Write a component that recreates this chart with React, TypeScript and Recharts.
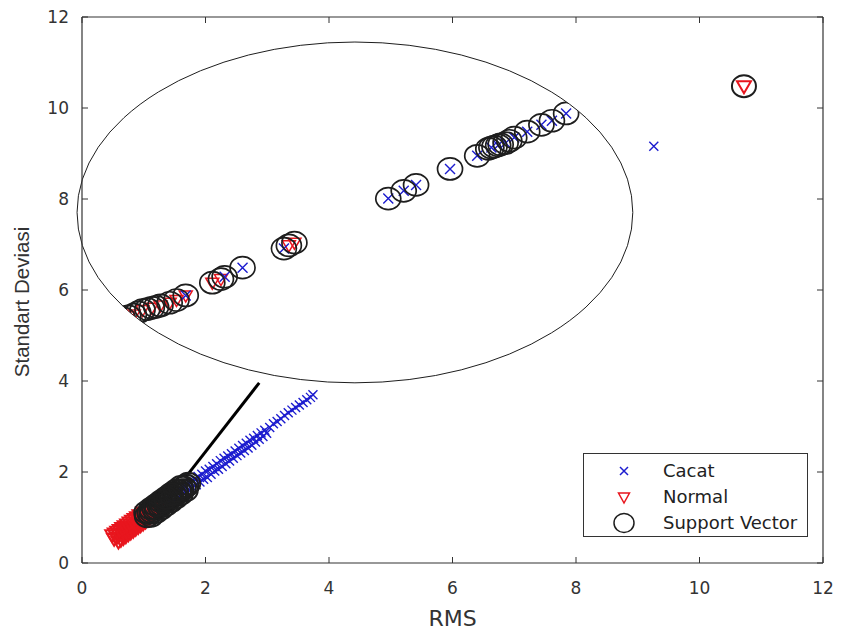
import React from "react";
import {
  ScatterChart,
  Scatter,
  XAxis,
  YAxis,
  ReferenceArea,
  ReferenceLine,
  Legend,
} from "recharts";

// Cacat (defect) samples: RMS vs standard deviation
const cacatRms = [
  1.4, 1.43, 1.46, 1.49, 1.52, 1.55, 1.58, 1.61, 1.64, 1.67,
  1.7, 1.73, 1.76, 1.79, 1.82, 1.85, 1.88, 1.91, 1.94, 1.97,
  2.0, 2.03, 2.06, 2.09, 2.12, 2.15, 2.18, 2.21, 2.24, 2.27,
  2.3, 2.33, 2.36, 2.39, 2.42, 2.45, 2.48, 2.51, 2.54, 2.57,
  2.6, 2.63, 2.66, 2.69, 2.72, 2.75, 2.78, 2.81, 2.84, 2.87,
  2.9, 2.93, 2.96, 2.99, 3.04, 3.1, 3.16, 3.22, 3.28, 3.34,
  3.4, 3.46, 3.52, 3.58, 3.64, 3.7, 3.74, 9.26,
];
const cacatStd = [
  1.47, 1.32, 1.5, 1.38, 1.58, 1.44, 1.62, 1.5, 1.7, 1.56,
  1.74, 1.6, 1.78, 1.66, 1.84, 1.72, 1.9, 1.78, 1.95, 1.84,
  2.02, 1.88, 2.06, 1.95, 2.12, 2.02, 2.18, 2.06, 2.25, 2.12,
  2.3, 2.18, 2.35, 2.24, 2.4, 2.3, 2.46, 2.36, 2.52, 2.42,
  2.58, 2.47, 2.63, 2.53, 2.7, 2.59, 2.74, 2.66, 2.8, 2.72,
  2.86, 2.78, 2.92, 2.85, 2.98, 3.06, 3.11, 3.17, 3.24, 3.3,
  3.36, 3.42, 3.47, 3.53, 3.59, 3.64, 3.7, 9.16,
];

// Normal samples
const normalRms = [
  0.52, 0.56, 0.6, 0.64, 0.68, 0.72, 0.76, 0.8, 0.84, 0.88,
  0.92, 0.96, 1.0, 1.05, 1.1, 1.16, 1.22,
  0.59, 0.63, 0.67, 0.71, 0.75, 0.79, 0.83, 0.87, 0.91, 0.95,
  0.99, 1.03, 1.09, 1.15, 1.23,
  0.49, 0.53, 0.57, 0.61, 0.65, 0.69, 0.73, 0.77, 0.81, 0.85,
  0.89, 0.93, 0.99, 1.05, 1.13,
  10.72,
];
const normalStd = [
  0.53, 0.56, 0.61, 0.64, 0.69, 0.72, 0.77, 0.8, 0.85, 0.88,
  0.93, 0.96, 1.01, 1.05, 1.11, 1.16, 1.23,
  0.47, 0.51, 0.55, 0.59, 0.63, 0.67, 0.71, 0.75, 0.79, 0.83,
  0.87, 0.91, 0.97, 1.03, 1.11,
  0.61, 0.65, 0.69, 0.73, 0.77, 0.81, 0.85, 0.89, 0.93, 0.97,
  1.01, 1.05, 1.11, 1.17, 1.25,
  10.48,
];

// support vectors
const svRms = [
  1.05, 1.09, 1.13, 1.17, 1.21, 1.25, 1.29, 1.33, 1.37, 1.41,
  1.45, 1.49, 1.53, 1.57, 1.61, 1.65, 1.69, 1.72,
  1.12, 1.2, 1.28, 1.36, 1.44, 1.52, 1.6, 1.68,
  1.04, 1.12, 1.2, 1.28, 1.36, 1.44, 1.52, 1.6,
  10.72,
];
const svStd = [
  1.03, 1.1, 1.12, 1.19, 1.2, 1.27, 1.28, 1.35, 1.36, 1.43,
  1.44, 1.51, 1.52, 1.58, 1.6, 1.66, 1.7, 1.74,
  1.04, 1.12, 1.2, 1.28, 1.36, 1.44, 1.52, 1.6,
  1.11, 1.19, 1.27, 1.35, 1.43, 1.51, 1.59, 1.67,
  10.48,
];

// magnified points shown inside the zoom ellipse
const zoomNormalRms = [0.66, 0.75, 0.84, 0.98, 1.13, 1.27, 1.42, 1.53, 1.68, 2.11, 2.25, 3.35, 3.44];
const zoomNormalStd = [5.38, 5.42, 5.46, 5.56, 5.61, 5.66, 5.72, 5.78, 5.88, 6.16, 6.24, 6.98, 7.04];
const zoomCacatRms = [1.68, 2.31, 2.6, 3.27, 4.96, 5.21, 5.41, 5.96, 6.4, 6.63, 6.74, 6.86, 7.0, 7.21, 7.44, 7.61, 7.84];
const zoomCacatStd = [5.88, 6.29, 6.49, 6.91, 8.01, 8.18, 8.31, 8.66, 8.95, 9.13, 9.18, 9.23, 9.35, 9.48, 9.63, 9.72, 9.88];
const zoomSvRms = [
  0.66, 0.75, 0.84, 0.91, 0.98, 1.06, 1.13, 1.2, 1.27, 1.42,
  1.53, 1.68, 2.11, 2.25, 2.31, 2.6, 3.27, 3.35, 3.44, 4.96,
  5.21, 5.41, 5.96, 6.4, 6.58, 6.63, 6.68, 6.74, 6.78, 6.86,
  6.92, 7.0, 7.21, 7.44, 7.61, 7.84,
];
const zoomSvStd = [
  5.38, 5.42, 5.46, 5.51, 5.56, 5.58, 5.61, 5.63, 5.66, 5.72,
  5.78, 5.88, 6.16, 6.24, 6.29, 6.49, 6.91, 6.98, 7.04, 8.01,
  8.18, 8.31, 8.66, 8.95, 9.1, 9.13, 9.15, 9.18, 9.2, 9.23,
  9.28, 9.35, 9.48, 9.63, 9.72, 9.88,
];

// zoom ellipse bounds and connector (data units)
const zoomBox = { x1: -0.08, x2: 8.92, y1: 3.96, y2: 11.45 };
const connector = [
  { x: 1.67, y: 1.87 },
  { x: 2.87, y: 3.96 },
];

const axisTicks = [0, 2, 4, 6, 8, 10, 12];

const BLUE = "#1c1ccf";
const RED = "#e8161e";
const INK = "#1e1e1e";
const AXIS = "#333333";
const FONT = "'DejaVu Sans', sans-serif";

const toPoints = (xs: number[], ys: number[]) => xs.map((x, i) => ({ rms: x, std: ys[i] }));

const cacatData = toPoints(cacatRms, cacatStd);
const normalData = toPoints(normalRms, normalStd);
const svData = toPoints(svRms, svStd);
const zoomCacatData = toPoints(zoomCacatRms, zoomCacatStd);
const zoomNormalData = toPoints(zoomNormalRms, zoomNormalStd);
const zoomSvData = toPoints(zoomSvRms, zoomSvStd);

const CLIP = "url(#zoomClip)";

function crossShape(s: number, clip?: boolean) {
  return (p: any) => {
    const { cx, cy } = p;
    return (
      <path
        d={`M${cx - s},${cy - s}L${cx + s},${cy + s}M${cx - s},${cy + s}L${cx + s},${cy - s}`}
        stroke={BLUE}
        strokeWidth={1.4}
        fill='none'
        clipPath={clip ? CLIP : undefined}
      />
    );
  };
}

function triangleShape(s: number, w: number, clip?: boolean) {
  return (p: any) => {
    const { cx, cy } = p;
    return (
      <path
        d={`M${cx - s},${cy - s * 0.7}L${cx + s},${cy - s * 0.7}L${cx},${cy + s}Z`}
        stroke={RED}
        strokeWidth={w}
        fill='none'
        clipPath={clip ? CLIP : undefined}
      />
    );
  };
}

function circleShape(rx: number, ry: number, w: number, clip?: boolean) {
  return (p: any) => {
    const { cx, cy } = p;
    return (
      <ellipse
        cx={cx}
        cy={cy}
        rx={rx}
        ry={ry}
        stroke={INK}
        strokeWidth={w}
        fill='none'
        clipPath={clip ? CLIP : undefined}
      />
    );
  };
}

const ZoomEllipse = (p: any) => {
  const { x, y, width, height } = p;
  const cx = x + width / 2;
  const cy = y + height / 2;
  return (
    <g>
      <defs>
        <clipPath id='zoomClip'>
          <ellipse cx={cx} cy={cy} rx={width / 2} ry={height / 2} />
        </clipPath>
      </defs>
      <ellipse cx={cx} cy={cy} rx={width / 2} ry={height / 2} fill='none' stroke={INK} strokeWidth={1} />
    </g>
  );
};

// box axes (top / right) carry tick marks only, no labels
const NoTick = () => <g />;

const legendRows = [
  { name: "Cacat", kind: "x" },
  { name: "Normal", kind: "v" },
  { name: "Support Vector", kind: "o" },
];

const LegendBox = () => (
  <div
    style={{
      width: 225,
      height: 84,
      boxSizing: "border-box",
      border: `1.5px solid ${AXIS}`,
      background: "#fff",
      position: "relative",
      fontFamily: FONT,
      fontSize: 18,
      color: "#222",
    }}
  >
    {legendRows.map((row, i) => (
      <div
        key={row.name}
        style={{ position: "absolute", left: 0, top: 4 + i * 26, height: 26, width: "100%" }}
      >
        <svg width={30} height={26} style={{ position: "absolute", left: 25, top: 0 }}>
          {row.kind === "x" && (
            <path d='M11,9L19,17M11,17L19,9' stroke={BLUE} strokeWidth={1.5} fill='none' />
          )}
          {row.kind === "v" && (
            <path d='M9.5,9L20.5,9L15,19Z' stroke={RED} strokeWidth={1.5} fill='none' />
          )}
          {row.kind === "o" && (
            <ellipse cx={15} cy={13} rx={10} ry={9.5} stroke={INK} strokeWidth={1.5} fill='none' />
          )}
        </svg>
        <span style={{ position: "absolute", left: 79, top: 2, lineHeight: "22px", whiteSpace: "nowrap" }}>
          {row.name}
        </span>
      </div>
    ))}
  </div>
);

const tickStyle = { fill: AXIS, fontSize: 17, fontFamily: FONT };

export default function App() {
  return (
    <div style={{ position: "absolute", left: 0, top: 0, background: "#fff" }}>
      <ScatterChart width={841} height={635} margin={{ top: 17, right: 18, bottom: 0, left: 0 }}>
        <XAxis
          dataKey='rms'
          type='number'
          domain={[0, 12]}
          ticks={axisTicks}
          height={72}
          tickSize={-6}
          tickMargin={25}
          tick={tickStyle}
          axisLine={{ stroke: AXIS, strokeWidth: 1.2 }}
          tickLine={{ stroke: AXIS }}
          label={(p: any) => (
            <text
              x={p.viewBox.x + p.viewBox.width / 2}
              y={p.viewBox.y + 63}
              textAnchor='middle'
              fill={AXIS}
              fontSize={22}
              fontFamily={FONT}
            >
              RMS
            </text>
          )}
        />
        <XAxis
          xAxisId='top'
          orientation='top'
          dataKey='rms'
          type='number'
          domain={[0, 12]}
          ticks={axisTicks}
          interval={0}
          height={1}
          mirror
          tickSize={6}
          tick={NoTick}
          axisLine={{ stroke: AXIS, strokeWidth: 1.2 }}
          tickLine={{ stroke: AXIS }}
        />
        <YAxis
          dataKey='std'
          type='number'
          domain={[0, 12]}
          ticks={axisTicks}
          width={82}
          tickSize={-6}
          tickMargin={19}
          tick={tickStyle}
          axisLine={{ stroke: AXIS, strokeWidth: 1.2 }}
          tickLine={{ stroke: AXIS }}
          label={(p: any) => {
            const lx = p.viewBox.x + 21;
            const ly = p.viewBox.y + p.viewBox.height / 2 + 12;
            return (
              <text
                x={lx}
                y={ly}
                transform={`rotate(-90 ${lx} ${ly})`}
                textAnchor='middle'
                dominantBaseline='central'
                fill={AXIS}
                fontSize={20.5}
                fontFamily="'Liberation Sans', Arial, sans-serif"
              >
                Standart Deviasi
              </text>
            );
          }}
        />
        <YAxis
          yAxisId='right'
          orientation='right'
          dataKey='std'
          type='number'
          domain={[0, 12]}
          ticks={axisTicks}
          interval={0}
          width={1}
          mirror
          tickSize={6}
          tick={NoTick}
          axisLine={{ stroke: AXIS, strokeWidth: 1.2 }}
          tickLine={{ stroke: AXIS }}
        />

        <ReferenceArea {...zoomBox} ifOverflow='visible' shape={ZoomEllipse} />
        <ReferenceLine segment={connector} stroke='#000' strokeWidth={3} ifOverflow='visible' />

        <Scatter name='Cacat' data={cacatData} shape={crossShape(4.5)} isAnimationActive={false} />
        <Scatter name='Normal' data={normalData} shape={triangleShape(7, 2)} isAnimationActive={false} />
        <Scatter name='Support Vector' data={svData} shape={circleShape(12, 11, 2)} isAnimationActive={false} />

        <Scatter
          data={zoomNormalData}
          xAxisId='top'
          yAxisId='right'
          shape={triangleShape(6.5, 1.5, true)}
          legendType='none'
          isAnimationActive={false}
        />
        <Scatter
          data={zoomCacatData}
          xAxisId='top'
          yAxisId='right'
          shape={crossShape(5, true)}
          legendType='none'
          isAnimationActive={false}
        />
        <Scatter
          data={zoomSvData}
          xAxisId='top'
          yAxisId='right'
          shape={circleShape(12.5, 11, 1.7, true)}
          legendType='none'
          isAnimationActive={false}
        />

        <Legend
          layout='horizontal'
          verticalAlign='middle'
          align='center'
          content={() => <LegendBox />}
          wrapperStyle={{ left: 583, top: 453, width: 225, height: 84 }}
        />
      </ScatterChart>
    </div>
  );
}
